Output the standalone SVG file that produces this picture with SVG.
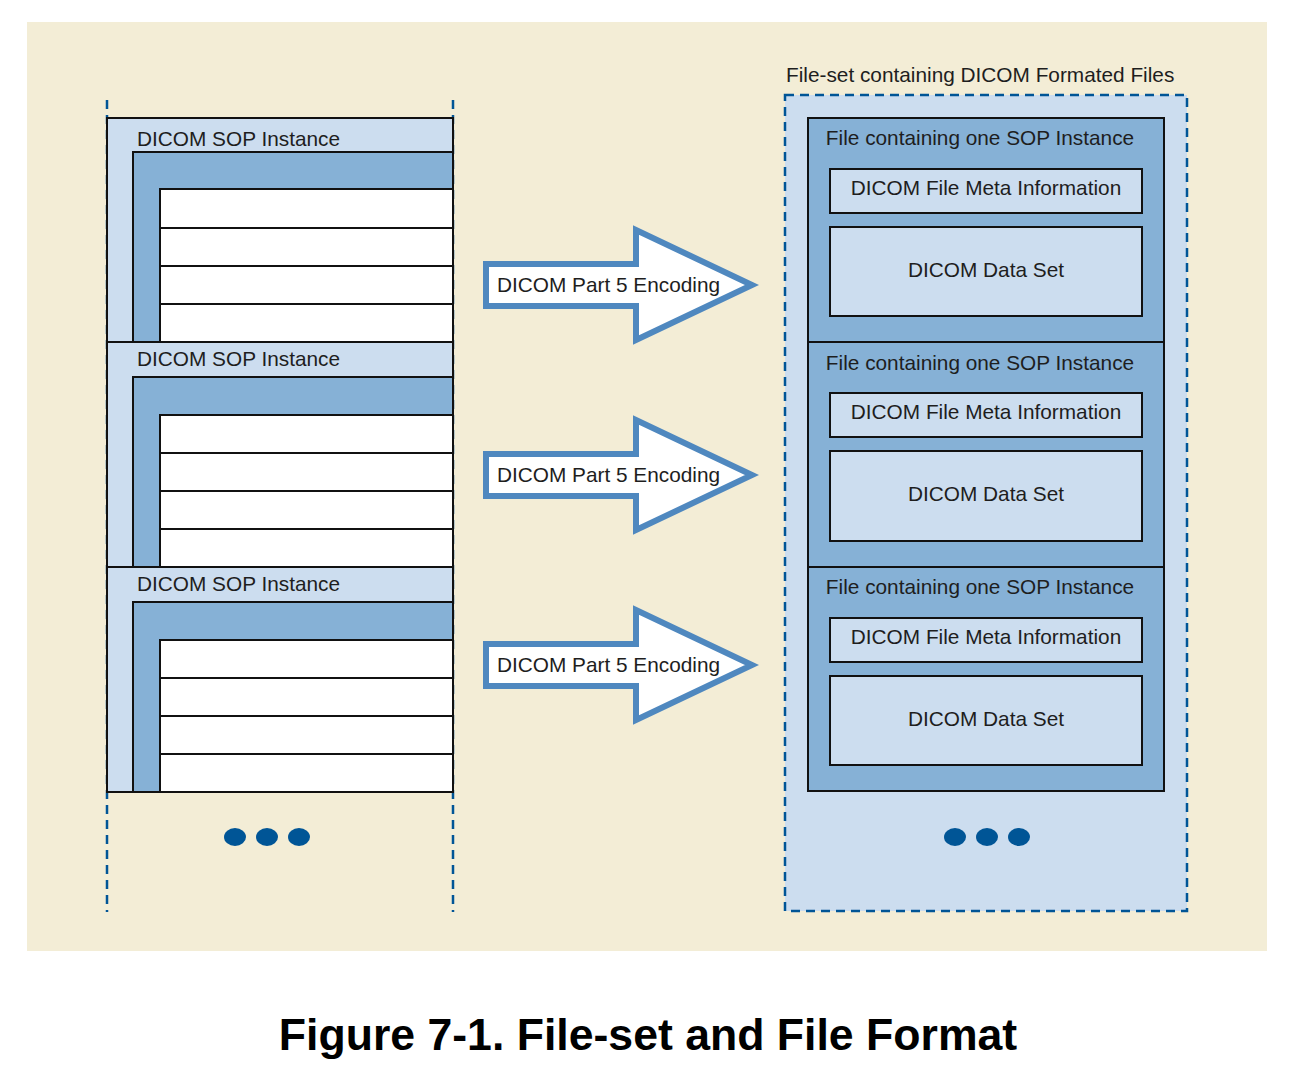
<svg xmlns="http://www.w3.org/2000/svg" width="1298" height="1082" viewBox="0 0 1298 1082">
<style>
text{font-family:"Liberation Sans",Arial,sans-serif;fill:#1e1e1e;font-size:20.8px}
.lt{fill:#CCDDEF}
.md{fill:#86B1D6}
.bx{stroke:#111;stroke-width:2}
.wh{fill:#fff;stroke:#111;stroke-width:2}
.dash{stroke:#005596;stroke-width:2.5;stroke-dasharray:9 6;fill:none}
.dot{fill:#005596}
.arr{fill:#fff;stroke:#4F88BF;stroke-width:6;stroke-linejoin:miter}
.c{text-anchor:middle}
</style>
<rect x="27" y="22" width="1240" height="929" fill="#F3EDD6"/>
<g id="left-guides">
<line class="dash" x1="107" y1="100" x2="107" y2="912"/>
<line class="dash" x1="453" y1="100" x2="453" y2="912"/>
</g>
<g id="sop1">
<rect class="lt bx" x="107" y="118" width="346" height="224"/>
<rect class="md bx" x="133" y="152" width="320" height="190"/>
<rect class="wh" x="160" y="189" width="293" height="39"/>
<rect class="wh" x="160" y="228" width="293" height="38"/>
<rect class="wh" x="160" y="266" width="293" height="38"/>
<rect class="wh" x="160" y="304" width="293" height="38"/>
<text x="137" y="146">DICOM SOP Instance</text>
</g>
<g id="sop2">
<rect class="lt bx" x="107" y="342" width="346" height="225"/>
<rect class="md bx" x="133" y="377" width="320" height="190"/>
<rect class="wh" x="160" y="415" width="293" height="38"/>
<rect class="wh" x="160" y="453" width="293" height="38"/>
<rect class="wh" x="160" y="491" width="293" height="38"/>
<rect class="wh" x="160" y="529" width="293" height="38"/>
<text x="137" y="366">DICOM SOP Instance</text>
</g>
<g id="sop3">
<rect class="lt bx" x="107" y="567" width="346" height="225"/>
<rect class="md bx" x="133" y="602" width="320" height="190"/>
<rect class="wh" x="160" y="640" width="293" height="38"/>
<rect class="wh" x="160" y="678" width="293" height="38"/>
<rect class="wh" x="160" y="716" width="293" height="38"/>
<rect class="wh" x="160" y="754" width="293" height="38"/>
<text x="137" y="591">DICOM SOP Instance</text>
</g>
<g id="left-dots">
<ellipse class="dot" cx="235" cy="837" rx="11" ry="9"/>
<ellipse class="dot" cx="267" cy="837" rx="11" ry="9"/>
<ellipse class="dot" cx="299" cy="837" rx="11" ry="9"/>
</g>
<g id="fileset">
<rect class="lt" x="785" y="95" width="402" height="816"/>
<rect class="dash" x="785" y="95" width="402" height="816"/>
<text x="786" y="82">File-set containing DICOM Formated Files</text>
</g>
<g id="file1">
<rect class="md bx" x="808" y="118" width="356" height="224"/>
<text class="c" x="980" y="145">File containing one SOP Instance</text>
<rect class="lt bx" x="830" y="169" width="312" height="44"/>
<text class="c" x="986" y="195">DICOM File Meta Information</text>
<rect class="lt bx" x="830" y="227" width="312" height="89"/>
<text class="c" x="986" y="277">DICOM Data Set</text>
</g>
<g id="file2">
<rect class="md bx" x="808" y="342" width="356" height="225"/>
<text class="c" x="980" y="370">File containing one SOP Instance</text>
<rect class="lt bx" x="830" y="393" width="312" height="44"/>
<text class="c" x="986" y="419">DICOM File Meta Information</text>
<rect class="lt bx" x="830" y="451" width="312" height="90"/>
<text class="c" x="986" y="501">DICOM Data Set</text>
</g>
<g id="file3">
<rect class="md bx" x="808" y="567" width="356" height="224"/>
<text class="c" x="980" y="594">File containing one SOP Instance</text>
<rect class="lt bx" x="830" y="618" width="312" height="44"/>
<text class="c" x="986" y="644">DICOM File Meta Information</text>
<rect class="lt bx" x="830" y="676" width="312" height="89"/>
<text class="c" x="986" y="726">DICOM Data Set</text>
</g>
<g id="right-dots">
<ellipse class="dot" cx="955" cy="837" rx="11" ry="9"/>
<ellipse class="dot" cx="987" cy="837" rx="11" ry="9"/>
<ellipse class="dot" cx="1019" cy="837" rx="11" ry="9"/>
</g>
<g id="connectors">
<g id="arrow1">
<path class="arr" d="M486,264 L636,264 L636,230 L752,285 L636,340 L636,306 L486,306 Z"/>
<text x="497" y="292">DICOM Part 5 Encoding</text>
</g>
<g id="arrow2">
<path class="arr" d="M486,454 L636,454 L636,420 L752,475 L636,530 L636,496 L486,496 Z"/>
<text x="497" y="482">DICOM Part 5 Encoding</text>
</g>
<g id="arrow3">
<path class="arr" d="M486,644 L636,644 L636,610 L752,665 L636,720 L636,686 L486,686 Z"/>
<text x="497" y="672">DICOM Part 5 Encoding</text>
</g>
</g>
<text class="c" x="648" y="1050" style="font-size:44.6px;font-weight:bold;fill:#000">Figure 7-1. File-set and File Format</text>
</svg>
